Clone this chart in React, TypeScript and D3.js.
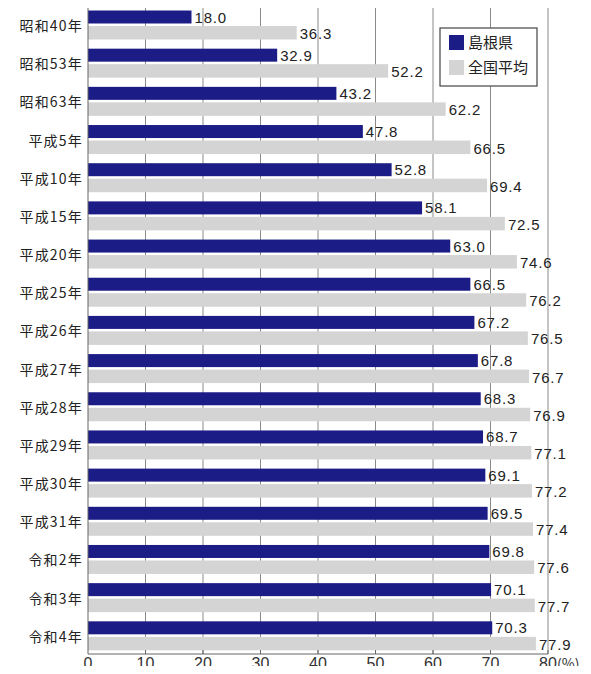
import { useEffect, useRef } from "react";
import * as d3 from "d3";

// 年度ごとの島根県と全国平均の値(%)
const categories = [
  "昭和40年", "昭和53年", "昭和63年", "平成5年", "平成10年", "平成15年",
  "平成20年", "平成25年", "平成26年", "平成27年", "平成28年", "平成29年",
  "平成30年", "平成31年", "令和2年", "令和3年", "令和4年",
];
const shimane = [18.0, 32.9, 43.2, 47.8, 52.8, 58.1, 63.0, 66.5, 67.2, 67.8, 68.3, 68.7, 69.1, 69.5, 69.8, 70.1, 70.3];
const national = [36.3, 52.2, 62.2, 66.5, 69.4, 72.5, 74.6, 76.2, 76.5, 76.7, 76.9, 77.1, 77.2, 77.4, 77.6, 77.7, 77.9];
const seriesNames = ["島根県", "全国平均"];
const xTicks = [0, 10, 20, 30, 40, 50, 60, 70, 80];

const NAVY = "#1c1c87";
const GRAY = "#d4d4d4";
const FONT = "'Noto Sans CJK JP', 'Noto Sans', sans-serif";
const NUM_FONT = "'Liberation Sans', Arial, sans-serif";

export default function App() {
  const svgRef = useRef<SVGSVGElement>(null);

  useEffect(() => {
    const W = 591, H = 674;
    const left = 88, right = 548, top = 8, bottom = 657, axisY = 654;

    const svg = d3.select(svgRef.current)
      .attr("width", W)
      .attr("height", H)
      .style("font-family", FONT);
    svg.selectAll("*").remove();

    svg.append("rect").attr("width", W).attr("height", H).attr("fill", "white");

    const x = d3.scaleLinear().domain([0, 80]).range([left, right]);
    const y = d3.scaleBand().domain(categories).range([top, bottom]);

    // grid
    svg.append("g")
      .selectAll("line")
      .data(xTicks.slice(1))
      .join("line")
      .attr("x1", d => x(d)).attr("x2", d => x(d))
      .attr("y1", top).attr("y2", axisY)
      .attr("stroke", "#8a8a8a").attr("stroke-width", 1);

    const g = svg.append("g");
    categories.forEach((c, i) => {
      const y0 = y(c)!;
      g.append("rect")
        .attr("x", x(0)).attr("y", y0 + 2.5)
        .attr("width", x(shimane[i]) - x(0)).attr("height", 13)
        .attr("fill", NAVY);
      g.append("rect")
        .attr("x", x(0)).attr("y", y0 + 18)
        .attr("width", x(national[i]) - x(0)).attr("height", 13.5)
        .attr("fill", GRAY);
      g.append("text")
        .attr("x", x(shimane[i]) + 3).attr("y", y0 + 14.5)
        .attr("font-family", NUM_FONT)
        .attr("font-size", 15).attr("letter-spacing", 0.8).attr("fill", "#222")
        .text(shimane[i].toFixed(1));
      g.append("text")
        .attr("x", x(national[i]) + 3).attr("y", y0 + 31)
        .attr("font-family", NUM_FONT)
        .attr("font-size", 15).attr("letter-spacing", 0.8).attr("fill", "#222")
        .text(national[i].toFixed(1));
      g.append("text")
        .attr("x", 83).attr("y", y0 + 23)
        .attr("text-anchor", "end")
        .attr("font-size", 14).attr("letter-spacing", 1.2).attr("fill", "#222")
        .text(c);
    });

    // axes
    svg.append("line")
      .attr("x1", left).attr("x2", left).attr("y1", top).attr("y2", axisY)
      .attr("stroke", "#666");
    svg.append("line")
      .attr("x1", left).attr("x2", right).attr("y1", axisY).attr("y2", axisY)
      .attr("stroke", "#666");
    svg.append("g")
      .selectAll("line")
      .data(xTicks.slice(1))
      .join("line")
      .attr("x1", d => x(d)).attr("x2", d => x(d))
      .attr("y1", axisY - 4).attr("y2", axisY)
      .attr("stroke", "#666");

    svg.append("g")
      .selectAll("text")
      .data(xTicks)
      .join("text")
      .attr("x", d => x(d)).attr("y", 669)
      .attr("text-anchor", "middle")
      .attr("font-family", NUM_FONT)
      .attr("font-size", 16).attr("fill", "#333")
      .text(d => String(d));
    svg.append("text")
      .attr("x", x(80) + 9).attr("y", 669)
      .attr("font-size", 14).attr("fill", "#333")
      .text("(%)");

    // legend
    const lg = svg.append("g").attr("transform", "translate(440,28)");
    lg.append("rect")
      .attr("width", 97).attr("height", 58)
      .attr("fill", "white").attr("stroke", "#444").attr("stroke-width", 1.2);
    [NAVY, GRAY].forEach((col, i) => {
      lg.append("rect")
        .attr("x", 9).attr("y", 7 + i * 25)
        .attr("width", 15).attr("height", 15)
        .attr("fill", col);
      lg.append("text")
        .attr("x", 28).attr("y", 20 + i * 25)
        .attr("font-size", 15).attr("fill", "#222")
        .text(seriesNames[i]);
    });
  }, []);

  return <svg ref={svgRef} style={{ display: "block", margin: -8 }}></svg>;
}
